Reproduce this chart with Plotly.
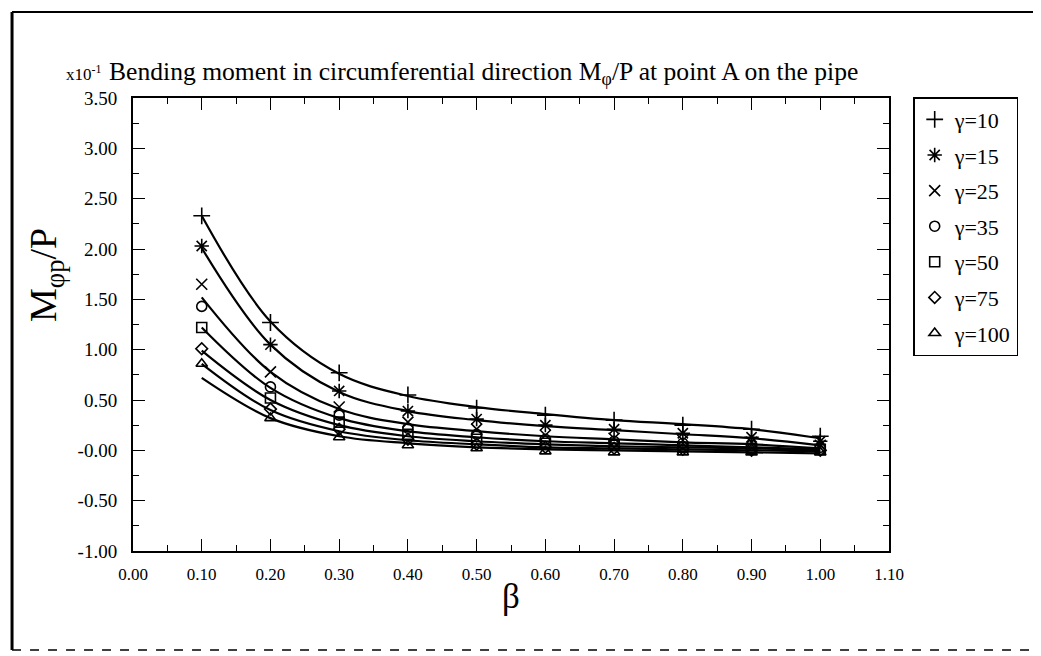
import plotly.graph_objects as go

beta = [0.1, 0.2, 0.3, 0.4, 0.5, 0.6, 0.7, 0.8, 0.9, 1.0]
gammas = ["10", "15", "25", "35", "50", "75", "100"]

# marker data (x10^-1)
m_g10 = [2.33, 1.27, 0.77, 0.55, 0.42, 0.35, 0.30, 0.25, 0.21, 0.14]
m_g15 = [2.03, 1.05, 0.59, 0.39, 0.31, 0.25, 0.21, 0.17, 0.13, 0.09]
m_g25 = [1.65, 0.78, 0.43, 0.28, 0.21, 0.15, 0.12, 0.10, 0.08, 0.05]
m_g35 = [1.43, 0.63, 0.35, 0.22, 0.16, 0.11, 0.09, 0.07, 0.05, 0.03]
m_g50 = [1.22, 0.52, 0.28, 0.16, 0.11, 0.07, 0.05, 0.03, 0.02, 0.01]
m_g75 = [1.01, 0.41, 0.21, 0.11, 0.06, 0.03, 0.02, 0.01, 0.00, 0.00]
m_g100 = [0.86, 0.32, 0.13, 0.05, 0.02, -0.01, -0.02, -0.02, -0.02, -0.02]

# fitted curves
c_1 = [2.33, 1.28, 0.76, 0.54, 0.43, 0.36, 0.30, 0.26, 0.21, 0.12]
c_2 = [2.01, 1.05, 0.58, 0.39, 0.30, 0.24, 0.20, 0.16, 0.12, 0.05]
c_3 = [1.52, 0.78, 0.41, 0.26, 0.19, 0.14, 0.11, 0.08, 0.06, 0.02]
c_4 = [1.22, 0.62, 0.32, 0.19, 0.13, 0.09, 0.07, 0.05, 0.03, 0.01]
c_5 = [0.99, 0.50, 0.25, 0.14, 0.09, 0.06, 0.04, 0.03, 0.02, 0.00]
c_6 = [0.86, 0.40, 0.19, 0.10, 0.06, 0.03, 0.02, 0.01, 0.00, -0.01]
c_7 = [0.72, 0.32, 0.14, 0.07, 0.03, 0.01, 0.00, -0.01, -0.02, -0.03]

x_ticks = [0.0, 0.1, 0.2, 0.3, 0.4, 0.5, 0.6, 0.7, 0.8, 0.9, 1.0, 1.1]
x_ticktext = ["0.00", "0.10", "0.20", "0.30", "0.40", "0.50", "0.60", "0.70", "0.80", "0.90", "1.00", "1.10"]
y_ticks = [3.5, 3.0, 2.5, 2.0, 1.5, 1.0, 0.5, 0.0, -0.5, -1.0]
y_ticktext = ["3.50", "3.00", "2.50", "2.00", "1.50", "1.00", "0.50", "-0.00", "-0.50", "-1.00"]

markers = [m_g10, m_g15, m_g25, m_g35, m_g50, m_g75, m_g100]
curves = [c_1, c_2, c_3, c_4, c_5, c_6, c_7]
symbols = ["cross-thin-open", "asterisk-open", "x-thin-open", "circle-open",
           "square-open", "diamond-open", "triangle-up-open"]
sizes = [12, 12, 11, 10, 10, 9, 10]

FONT = "Liberation Serif"

fig = go.Figure()
for c in curves:
    fig.add_trace(go.Scatter(x=beta, y=c, mode="lines",
                             line=dict(color="black", width=2.2, shape="spline", smoothing=1.0),
                             showlegend=False, hoverinfo="skip"))
for g, m, s, sz in zip(gammas, markers, symbols, sizes):
    fig.add_trace(go.Scatter(x=beta, y=m, mode="markers", name="\u03b3=" + g, legendgroup=g,
                             marker=dict(symbol=s, size=sz, color="black",
                                         line=dict(color="black", width=1.6))))

fig.update_layout(
    width=1033, height=648,
    paper_bgcolor="white", plot_bgcolor="white",
    margin=dict(l=125, r=152, t=90, b=105, autoexpand=False),
    font=dict(family=FONT, color="black", size=18),
    showlegend=True,
    legend=dict(x=1.032, y=1.002, xanchor="left", yanchor="top",
                bordercolor="black", borderwidth=1.5, bgcolor="white",
                font=dict(family=FONT, size=22, color="black"), itemwidth=30,
                tracegroupgap=4),
    xaxis=dict(range=[0, 1.1], tickvals=x_ticks, ticktext=x_ticktext,
               ticks="inside", ticklen=12, tickwidth=1.2, tickcolor="black",
               showline=True, linecolor="black", linewidth=2, mirror="ticks",
               showgrid=False, zeroline=False, ticklabelstandoff=7,
               tickfont=dict(family=FONT, size=17, color="black"),
               minor=dict(tickvals=[0.05 + 0.1 * i for i in range(11)], ticks="inside",
                          ticklen=6, tickcolor="black", tickwidth=1.2),
               title=dict(text="\u03b2", font=dict(family=FONT, size=35, color="black"), standoff=0)),
    yaxis=dict(range=[-1.0, 3.5], tickvals=y_ticks, ticktext=y_ticktext,
               ticks="inside", ticklen=12, tickwidth=1.2, tickcolor="black",
               showline=True, linecolor="black", linewidth=2, mirror="ticks",
               showgrid=False, zeroline=False, ticklabelstandoff=10,
               tickfont=dict(family=FONT, size=19, color="black"),
               minor=dict(tickvals=[3.25 - 0.5 * i for i in range(9)], ticks="inside",
                          ticklen=6, tickcolor="black", tickwidth=1.2)),
    annotations=[
        dict(text="Bending moment in circumferential direction M<sub>\u03c6</sub>/P at point A on the pipe",
             xref="paper", yref="paper", x=-0.034, y=1.055, xanchor="left", yanchor="middle",
             showarrow=False, font=dict(family=FONT, size=25.6, color="black")),
        dict(text="x10<sup>-1</sup>", xref="paper", yref="paper", x=-0.040, y=1.055,
             xanchor="right", yanchor="middle", showarrow=False,
             font=dict(family=FONT, size=17, color="black")),
        dict(text="M<sub>\u03c6p</sub>/P", xref="paper", yref="paper", x=-0.116, y=0.61,
             xanchor="center", yanchor="middle", textangle=-90, showarrow=False,
             font=dict(family=FONT, size=38, color="black")),
    ],
    shapes=[
        dict(type="line", xref="paper", yref="paper", x0=-0.16, x1=1.201, y0=1.19, y1=1.19,
             line=dict(color="black", width=2)),
        dict(type="line", xref="paper", yref="paper", x0=-0.16, x1=-0.16, y0=1.19, y1=-0.2185,
             line=dict(color="black", width=3)),
        dict(type="line", xref="paper", yref="paper", x0=-0.16, x1=1.201, y0=-0.2185, y1=-0.2185,
             line=dict(color="black", width=1.5, dash="dash")),
    ],
)

fig.write_html("out.html")
